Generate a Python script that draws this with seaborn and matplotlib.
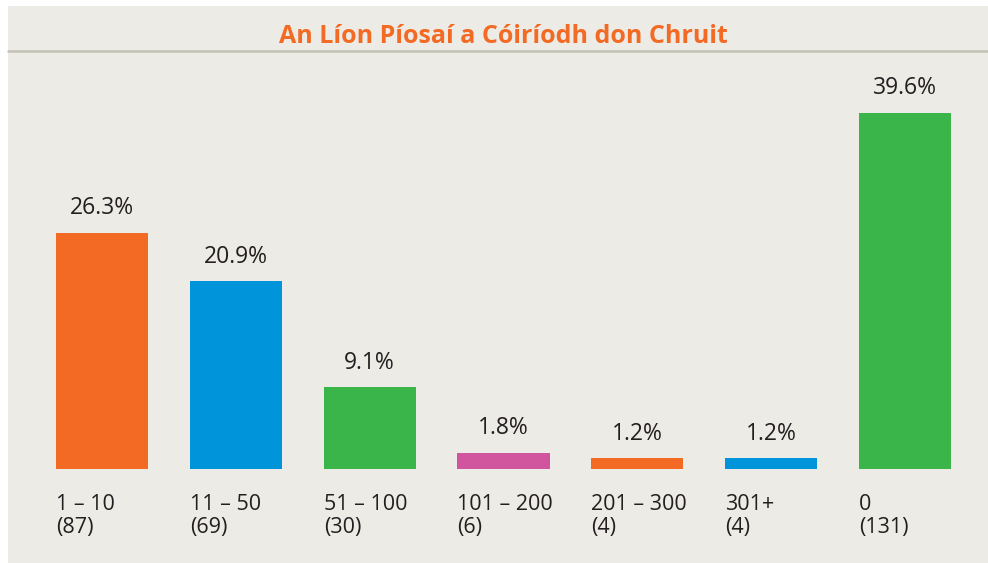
import pandas as pd
import seaborn as sns
import matplotlib.pyplot as plt
from matplotlib.patches import Rectangle
from matplotlib.lines import Line2D
from matplotlib.transforms import blended_transform_factory

# Data
categories = ["1 – 10", "11 – 50", "51 – 100", "101 – 200", "201 – 300", "301+", "0"]
counts = [87, 69, 30, 6, 4, 4, 131]
percents = [26.3, 20.9, 9.1, 1.8, 1.2, 1.2, 39.6]
bar_colors = ["#F26A24", "#0095DA", "#3AB54A", "#D1559E", "#F26A24", "#0095DA", "#3AB54A"]

title = "An Líon Píosaí a Cóiríodh don Chruit"

W, H = 988, 563
panel_color = "#ECEBE6"
text_color = "#231F20"

sns.set_theme(style="white")
plt.rcParams["font.family"] = ["Open Sans", "DejaVu Sans"]

df = pd.DataFrame({"category": categories, "percent": percents, "count": counts})

fig = plt.figure(figsize=(W / 100, H / 100), dpi=100)
fig.patch.set_facecolor("white")

# grey panel behind everything
fig.patches.append(Rectangle((8 / W, 0), 980 / W, 557 / H, transform=fig.transFigure,
                             facecolor=panel_color, edgecolor="none", zorder=-10))
# rule under the title
fig.lines.append(Line2D([8 / W, 1], [1 - 51 / H] * 2, transform=fig.transFigure,
                        color="#C4C2B4", lw=1.8, zorder=-5))

# axes: bar bottom at y=469px, top at y=51px
ax = fig.add_axes([8 / W, (H - 469) / H, 980 / W, 418 / H])
ax.set_facecolor("none")
ax.set_zorder(1)

bar_w = 92 / 133.8
sns.barplot(data=df, x="category", y="percent", hue="category", palette=bar_colors,
            order=categories, hue_order=categories, legend=False, width=bar_w,
            saturation=1, linewidth=0, ax=ax)

ax.set_xlim(-(102 - 8) / 133.8, 6 + (988 - 905) / 133.8)
ax.set_ylim(0, 418 / 8.99)
ax.axis("off")

# value labels above bars
for i, p in enumerate(percents):
    ax.annotate(f"{p:.1f}%", xy=(i, p), xytext=(0, 9), textcoords="offset points",
                ha="center", va="bottom", fontsize=16.5, color=text_color)

# category labels under the bars
tr = blended_transform_factory(ax.transData, fig.transFigure)
for i, (cat, n) in enumerate(zip(categories, counts)):
    x0 = i - bar_w / 2
    ax.text(x0, (H - 510) / H, cat, transform=tr, ha="left", va="baseline",
            fontsize=15.5, color=text_color, clip_on=False)
    ax.text(x0, (H - 533) / H, f"({n})", transform=tr, ha="left", va="baseline",
            fontsize=15.5, color=text_color, clip_on=False)

fig.text(503 / W, (H - 43) / H, title, ha="center", va="baseline", fontsize=18,
         fontweight="bold", color="#F26A24")

plt.savefig("out.png", dpi=100, facecolor=fig.get_facecolor())
plt.close()
